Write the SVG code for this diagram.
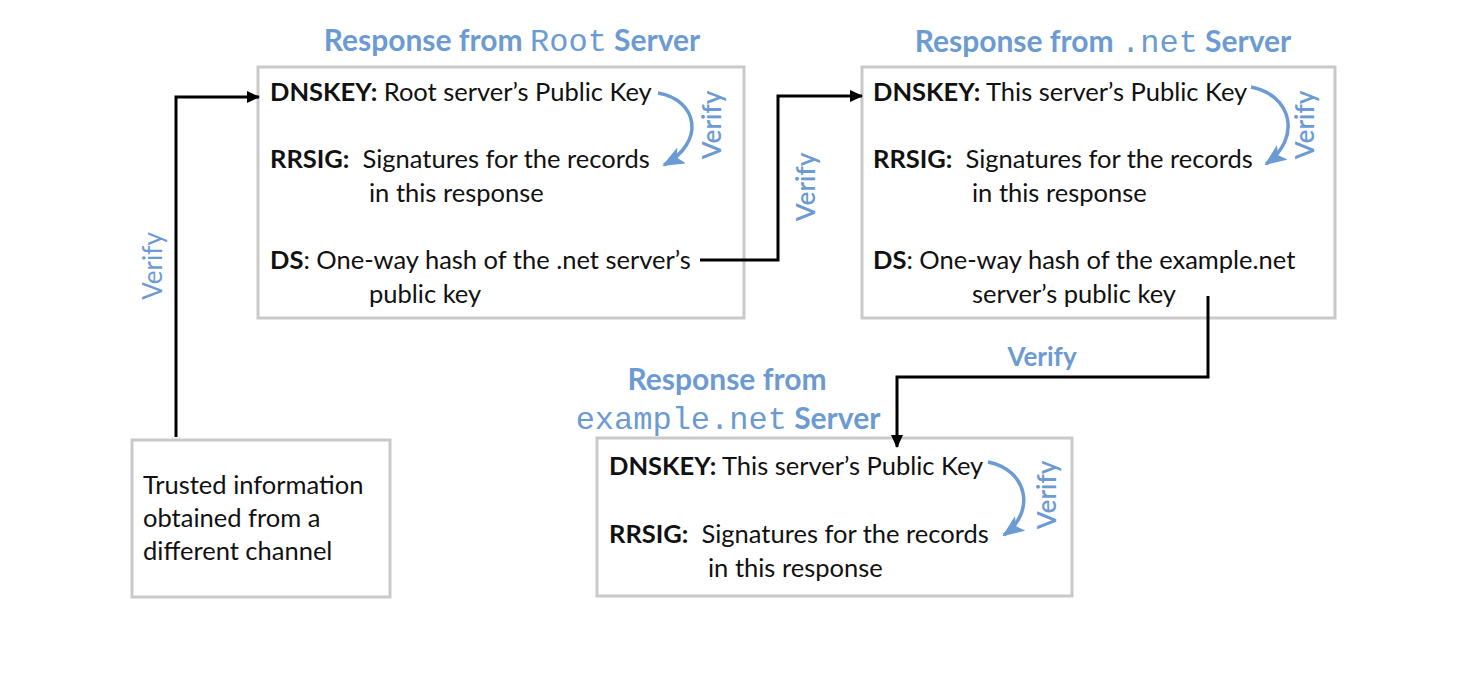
<svg xmlns="http://www.w3.org/2000/svg" width="1472" height="684" viewBox="0 0 1472 684">
<defs>
<style>
.box{fill:#fff;stroke:#c9c9c9;stroke-width:3}
.t{font-family:Lato,"Open Sans",sans-serif;font-size:25.5px;fill:#111;white-space:pre}
.b{font-weight:bold}
.title{font-family:Lato,"Open Sans",sans-serif;font-size:30px;font-weight:bold;fill:#6b9bd2}
.mono{font-family:"Liberation Mono",monospace;font-weight:normal;font-size:32px}
.v{font-family:Lato,"Open Sans",sans-serif;font-size:26px;font-weight:600;fill:#6b9bd2}
.conn{fill:none;stroke:#000;stroke-width:3}
.curve{fill:none;stroke:#6b9bd2;stroke-width:3.5}
</style>
<marker id="ab" markerWidth="13" markerHeight="12" refX="12" refY="6" orient="auto" markerUnits="userSpaceOnUse">
<path d="M0,0 L13,6 L0,12 Z" fill="#000"/>
</marker>
<marker id="ablue" markerWidth="22" markerHeight="18" refX="20" refY="9" orient="auto" markerUnits="userSpaceOnUse">
<path d="M0,0 L22,9 L0,18 L5,9 Z" fill="#6b9bd2"/>
</marker>
</defs>

<g id="title-root"><text class="title" x="512" y="51" text-anchor="middle">Response from <tspan class="mono">Root</tspan> Server</text></g>
<g id="title-net"><text class="title" x="1103" y="52" text-anchor="middle">Response from <tspan class="mono">.net</tspan> Server</text></g>
<g id="title-example">
<text class="title" x="727" y="390" text-anchor="middle">Response from</text>
<text class="title" x="728" y="429" text-anchor="middle"><tspan class="mono">example.net</tspan> Server</text>
</g>

<g id="root-box">
<rect class="box" x="258" y="67" width="486" height="251"/>
<text class="t" x="270" y="101"><tspan class="b">DNSKEY:</tspan> Root server’s Public Key</text>
<text class="t" x="270" y="168"><tspan class="b">RRSIG:</tspan>  Signatures for the records</text>
<text class="t" x="369" y="202">in this response</text>
<text class="t" x="270" y="269"><tspan class="b">DS</tspan>: One-way hash of the .net server’s</text>
<text class="t" x="369" y="303">public key</text>
<path class="curve" d="M658,93 C698,100 706,142 664,165" marker-end="url(#ablue)"/>
<text class="v" transform="translate(721,125) rotate(-90)" text-anchor="middle">Verify</text>
</g>

<g id="net-box">
<rect class="box" x="862" y="67" width="473" height="251"/>
<text class="t" x="873" y="101"><tspan class="b">DNSKEY:</tspan> This server’s Public Key</text>
<text class="t" x="873" y="168"><tspan class="b">RRSIG:</tspan>  Signatures for the records</text>
<text class="t" x="972" y="202">in this response</text>
<text class="t" x="873" y="269"><tspan class="b">DS</tspan>: One-way hash of the example.net</text>
<text class="t" x="972" y="303">server’s public key</text>
<path class="curve" d="M1251,87 C1292,95 1302,138 1266,164" marker-end="url(#ablue)"/>
<text class="v" transform="translate(1314,125) rotate(-90)" text-anchor="middle">Verify</text>
</g>

<g id="example-box">
<rect class="box" x="597" y="438" width="475" height="158"/>
<text class="t" x="609" y="475"><tspan class="b">DNSKEY:</tspan> This server’s Public Key</text>
<text class="t" x="609" y="543"><tspan class="b">RRSIG:</tspan>  Signatures for the records</text>
<text class="t" x="708" y="577">in this response</text>
<path class="curve" d="M988,462 C1028,470 1036,512 1004,535" marker-end="url(#ablue)"/>
<text class="v" transform="translate(1056,495) rotate(-90)" text-anchor="middle">Verify</text>
</g>

<g id="trusted-box">
<rect class="box" x="132" y="440" width="258" height="157"/>
<text class="t" x="143" y="494">Trusted information</text>
<text class="t" x="143" y="527">obtained from a</text>
<text class="t" x="143" y="560">different channel</text>
</g>

<g id="connectors">
<path class="conn" d="M176,437 V97 H259" marker-end="url(#ab)"/>
<path class="conn" d="M700,260 H778 V96 H862" marker-end="url(#ab)"/>
<path class="conn" d="M1208,296 V377 H897 V447" marker-end="url(#ab)"/>
<text class="v" style="font-weight:normal" transform="translate(162,266) rotate(-90)" text-anchor="middle">Verify</text>
<text class="v" transform="translate(815,187) rotate(-90)" text-anchor="middle">Verify</text>
<text class="v" style="font-weight:bold" x="1042" y="366" text-anchor="middle">Verify</text>
</g>
</svg>
